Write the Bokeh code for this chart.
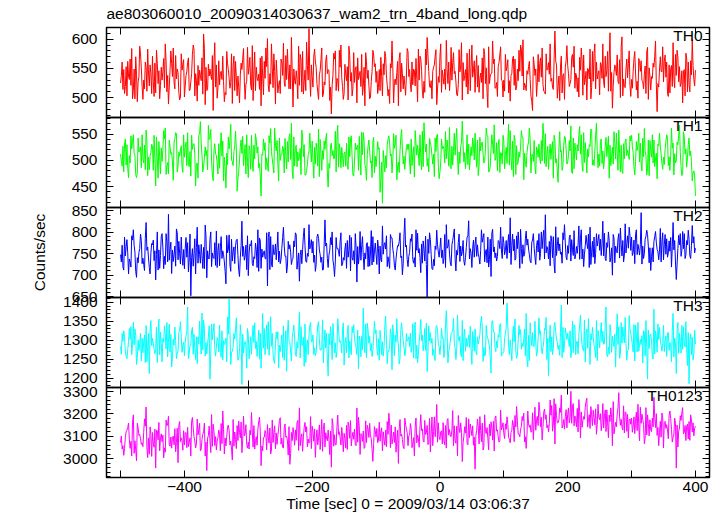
import numpy as np
from bokeh.plotting import figure
from bokeh.models import Range1d, LinearAxis, FixedTicker, Label, CustomLabelingPolicy
from bokeh.layouts import column
from bokeh.embed import file_html
from bokeh.resources import INLINE

# ---------------- data ----------------
# samples every 1.25 s: main at t=-500+5k, q1 at +1.25, mid at +2.5, q3 at +3.75
t_start = -500
t_step = 5

th0 = [525, 548, 503, 566, 512, 540, 588, 497, 552, 520,
       571, 508, 546, 530, 592, 489, 558, 515, 543, 575,
       501, 560, 527, 583, 494, 538, 609, 512, 549, 478,
       556, 522, 571, 505, 533, 490, 562, 518, 548, 497,
       540, 513, 578, 529, 486, 562, 601, 523, 575, 540,
       507, 593, 531, 556, 484, 546, 521, 579, 512, 618,
       536, 561, 497, 585, 522, 548, 472, 566, 530, 590,
       507, 553, 528, 577, 491, 545, 519, 562, 498, 581,
       526, 548, 503, 570, 514, 597, 532, 486, 559, 521,
       579, 510, 546, 493, 566, 528, 603, 517, 552, 488,
       571, 535, 598, 512, 560, 527, 582, 496, 548, 532,
       590, 509, 555, 526, 574, 483, 541, 566, 502, 587,
       530, 553, 494, 571, 518, 545, 599, 512, 562, 478,
       549, 527, 585, 506, 560, 533, 614, 519, 571, 497,
       555, 531, 588, 510, 547, 573, 496, 583, 528, 561,
       505, 592, 536, 568, 482, 550, 524, 604, 517, 558,
       531, 579, 499, 563, 540, 586, 513, 552, 476, 570,
       527, 561, 508, 594, 538, 553, 491, 576, 522, 599,
       547]
th0_q1 = [538, 507, 562, 521, 549, 493, 575, 530, 511, 556,
          527, 581, 498, 544, 563, 518, 536, 572, 509, 547,
          520, 568, 541, 503, 555, 529, 584, 514, 539, 561,
          499, 542, 527, 579, 516, 553, 534, 491, 566, 523,
          551, 589, 512, 540, 571, 533, 520, 592, 545, 508,
          566, 528, 583, 515, 549, 531, 574, 506, 595, 537,
          518, 552, 539, 501, 563, 546, 522, 580, 511, 534,
          557, 496, 543, 526, 568, 519, 552, 533, 501, 573,
          545, 512, 558, 537, 490, 549, 522, 567, 541, 504,
          536, 561, 520, 583, 547, 509, 571, 529, 556, 515,
          592, 523, 548, 536, 577, 505, 544, 560, 518, 583,
          535, 550, 509, 568, 524, 587, 542, 516, 553, 530,
          511, 565, 538, 521, 549, 590, 513, 546, 531, 570,
          502, 558, 523, 575, 540, 518, 563, 537, 508, 552,
          541, 569, 516, 534, 585, 522, 550, 498, 576, 532,
          560, 527, 547, 611, 519, 538, 565, 503, 549, 580,
          516, 542, 567, 529, 554, 497, 536, 571, 524, 545,
          562, 507, 550, 533, 581, 519, 544, 568, 510, 555]
th0_mid = [561, 519, 537, 584, 498, 527, 551, 515, 583, 541,
           502, 559, 521, 567, 510, 548, 585, 532, 496, 557,
           538, 512, 574, 541, 521, 568, 488, 557, 531, 594,
           517, 545, 493, 558, 526, 571, 503, 539, 584, 528,
           569, 495, 552, 514, 537, 585, 510, 552, 489, 521,
           561, 519, 544, 603, 529, 498, 566, 527, 555, 502,
           571, 524, 546, 506, 573, 495, 538, 512, 581, 519,
           540, 588, 503, 549, 531, 574, 486, 547, 528, 553,
           507, 569, 539, 521, 558, 491, 543, 577, 515, 537,
           548, 522, 567, 530, 511, 583, 545, 498, 571, 536,
           509, 549, 524, 586, 541, 503, 554, 529, 576, 512,
           548, 572, 532, 498, 551, 524, 597, 517, 560, 529,
           574, 508, 541, 566, 529, 583, 525, 540, 503, 557,
           526, 568, 511, 547, 592, 514, 556, 495, 538, 563,
           519, 574, 542, 501, 563, 531, 548, 517, 592, 540,
           556, 517, 579, 511, 543, 573, 500, 532, 566, 521,
           545, 513, 562, 528, 507, 551, 533, 597, 518, 544,
           573, 502, 555, 517, 569, 525, 548, 510, 563, 531]
th0_q3 = [514, 553, 531, 498, 570, 536, 519, 561, 542, 507,
          559, 524, 552, 517, 538, 580, 526, 549, 501, 565,
          544, 513, 590, 529, 547, 506, 552, 537, 572, 518,
          563, 531, 509, 548, 575, 512, 537, 559, 528, 586,
          521, 546, 534, 568, 505, 553, 541, 517, 564, 529,
          538, 572, 515, 544, 523, 588, 510, 547, 530, 556,
          583, 509, 565, 527, 541, 518, 576, 533, 552, 497,
          529, 572, 515, 553, 538, 504, 577, 521, 545, 558,
          517, 536, 579, 503, 551, 528, 562, 510, 537, 584,
          523, 549, 531, 571, 499, 556, 519, 545, 582, 526,
          547, 514, 561, 530, 545, 523, 594, 538, 506, 551,
          563, 518, 542, 584, 509, 537, 558, 526, 573, 501,
          546, 529, 567, 513, 581, 537, 520, 553, 494, 538,
          574, 535, 510, 549, 528, 566, 499, 554, 541, 589,
          524, 552, 537, 569, 504, 545, 532, 579, 515, 546,
          533, 571, 511, 543, 556, 528, 587, 519, 534, 502,
          567, 528, 545, 515, 578, 537, 559, 523, 549, 587,
          535, 556, 519, 574, 527, 546, 503, 561, 539, 520]

th1 = [512, 478, 530, 495, 549, 467, 521, 503, 558, 482,
       527, 451, 536, 498, 562, 474, 515, 541, 489, 528,
       506, 553, 470, 532, 495, 574, 488, 519, 543, 461,
       509, 485, 537, 447, 522, 498, 556, 479, 513, 530,
       467, 548, 503, 526, 432, 519, 491, 561, 476, 538,
       500, 523, 484, 551, 465, 529, 507, 545, 472, 516,
       537, 493, 560, 481, 521, 449, 533, 504, 567, 486,
       514, 492, 541, 470, 526, 503, 553, 462, 518, 535,
       488, 524, 418, 509, 547, 476, 531, 497, 559, 483,
       520, 541, 468, 529, 505, 572, 489, 534, 512, 548,
       478, 527, 503, 563, 491, 539, 516, 575, 484, 531,
       509, 552, 471, 533, 498, 546, 521, 568, 480, 515,
       537, 494, 557, 469, 528, 506, 543, 487, 562, 512,
       474, 531, 499, 551, 483, 524, 540, 458, 519, 546,
       497, 566, 484, 530, 512, 553, 476, 527, 501, 571,
       489, 518, 544, 466, 525, 503, 558, 481, 536, 513,
       548, 472, 529, 495, 561, 484, 520, 539, 465, 527,
       506, 549, 481, 533, 499, 567, 474, 522, 543, 461,
       432]
th1_q1 = [498, 531, 485, 547, 514, 476, 526, 495, 538, 509,
          481, 545, 506, 520, 473, 539, 497, 553, 516, 487,
          524, 492, 548, 511, 466, 533, 505, 482, 559, 519,
          495, 527, 461, 514, 538, 490, 522, 501, 546, 474,
          528, 497, 551, 486, 512, 534, 479, 517, 562, 493,
          511, 476, 536, 502, 545, 488, 523, 507, 481, 552,
          498, 533, 469, 519, 541, 494, 509, 556, 487, 525,
          516, 483, 547, 499, 529, 472, 537, 511, 495, 544,
          508, 439, 519, 486, 534, 501, 548, 477, 520, 506,
          531, 490, 557, 513, 482, 538, 504, 526, 469, 550,
          497, 522, 539, 486, 517, 561, 494, 529, 507, 482,
          543, 511, 489, 535, 522, 478, 549, 500, 528, 514,
          484, 536, 505, 548, 492, 527, 463, 515, 539, 498,
          526, 503, 571, 488, 514, 536, 495, 523, 481, 544,
          509, 477, 533, 518, 549, 496, 522, 560, 490, 517,
          536, 484, 507, 529, 493, 552, 513, 475, 541, 502,
          527, 498, 552, 480, 517, 539, 506, 488, 531, 513,
          492, 544, 510, 472, 535, 516, 555, 487, 509, 476]
th1_mid = [489, 541, 467, 522, 510, 543, 486, 529, 471, 515,
           548, 503, 474, 557, 489, 526, 462, 551, 508, 477,
           535, 488, 521, 451, 547, 510, 526, 567, 498, 532,
           474, 553, 506, 492, 569, 517, 441, 527, 490, 549,
           520, 479, 539, 494, 510, 482, 547, 503, 529, 461,
           511, 542, 497, 571, 489, 516, 473, 530, 492, 523,
           466, 518, 540, 502, 552, 485, 519, 478, 532, 509,
           489, 545, 507, 533, 481, 554, 492, 527, 499, 476,
           536, 465, 497, 530, 508, 551, 463, 518, 493, 526,
           497, 512, 533, 490, 556, 516, 478, 509, 543, 491,
           541, 495, 518, 484, 552, 508, 527, 497, 549, 506,
           528, 487, 544, 513, 562, 479, 531, 505, 540, 493,
           511, 569, 482, 539, 497, 557, 514, 528, 476, 538,
           520, 494, 547, 512, 531, 466, 503, 555, 489, 522,
           538, 475, 519, 549, 492, 534, 507, 558, 518, 486,
           541, 503, 527, 490, 555, 514, 478, 532, 509, 547,
           515, 536, 497, 542, 510, 471, 549, 503, 528, 494,
           521, 490, 562, 513, 530, 488, 544, 505, 518, 480]
th1_q3 = [527, 491, 509, 538, 473, 516, 549, 482, 506, 531,
          503, 466, 524, 541, 496, 512, 535, 478, 520, 549,
          490, 517, 531, 494, 552, 478, 509, 540, 472, 513,
          532, 508, 488, 545, 501, 527, 466, 539, 511, 496,
          483, 529, 514, 470, 541, 505, 533, 490, 518, 543,
          527, 509, 545, 480, 523, 499, 558, 472, 511, 497,
          525, 489, 514, 537, 476, 528, 503, 541, 519, 488,
          533, 507, 472, 520, 546, 511, 485, 539, 467, 508,
          521, 497, 478, 540, 512, 523, 489, 545, 508, 531,
          474, 526, 510, 549, 488, 531, 542, 493, 517, 465,
          522, 555, 489, 527, 510, 473, 534, 515, 492, 526,
          501, 539, 518, 495, 547, 489, 513, 534, 477, 548,
          525, 491, 537, 473, 516, 544, 498, 535, 511, 489,
          506, 538, 494, 527, 502, 548, 480, 516, 529, 493,
          518, 543, 501, 565, 479, 507, 530, 491, 548, 512,
          494, 527, 546, 508, 532, 481, 529, 503, 520, 537,
          488, 519, 533, 507, 472, 538, 495, 514, 552, 483,
          536, 507, 523, 495, 548, 471, 512, 530, 498, 472]

th2 = [748, 712, 783, 731, 806, 695, 762, 740, 823, 718,
       771, 689, 759, 797, 725, 842, 704, 768, 736, 789,
       715, 776, 652, 750, 812, 728, 765, 694, 784, 741,
       803, 722, 757, 680, 794, 733, 769, 711, 826, 745,
       699, 781, 739, 806, 716, 757, 675, 790, 748, 764,
       727, 812, 705, 771, 740, 795, 686, 760, 733, 818,
       752, 709, 786, 742, 829, 718, 771, 697, 763, 799,
       735, 781, 710, 757, 684, 802, 744, 773, 721, 790,
       749, 703, 815, 761, 730, 787, 712, 768, 745, 833,
       720, 779, 741, 798, 706, 760, 642, 783, 737, 805,
       764, 727, 818, 749, 781, 710, 796, 755, 741, 827,
       718, 772, 750, 806, 731, 789, 697, 766, 744, 812,
       776, 739, 834, 757, 792, 716, 771, 803, 748, 782,
       725, 797, 762, 841, 738, 779, 705, 788, 754, 818,
       769, 733, 804, 751, 786, 720, 775, 812, 742, 797,
       758, 826, 734, 781, 700, 768, 797, 745, 820, 763,
       789, 727, 772, 846, 751, 795, 711, 779, 760, 809,
       736, 785, 756, 823, 690, 771, 802, 747, 784, 816,
       763]
th2_q1 = [731, 789, 752, 719, 770, 741, 796, 725, 758, 703,
          782, 748, 716, 764, 797, 735, 759, 721, 779, 746,
          763, 708, 741, 785, 728, 772, 715, 757, 801, 739,
          718, 766, 748, 793, 724, 755, 782, 697, 744, 770,
          752, 727, 775, 709, 761, 739, 788, 726, 749, 801,
          737, 768, 721, 754, 780, 714, 747, 791, 730, 761,
          779, 725, 759, 712, 768, 747, 801, 733, 756, 722,
          761, 742, 788, 726, 767, 735, 713, 776, 752, 731,
          725, 768, 749, 792, 716, 761, 738, 779, 701, 766,
          744, 796, 719, 752, 773, 733, 784, 749, 722, 771,
          787, 740, 763, 729, 794, 758, 732, 781, 765, 738,
          763, 789, 741, 777, 754, 719, 798, 741, 781, 759,
          748, 773, 725, 784, 762, 807, 744, 770, 733, 797,
          769, 735, 790, 752, 779, 741, 813, 757, 728, 775,
          751, 783, 738, 772, 806, 749, 762, 725, 789, 768,
          784, 745, 776, 731, 795, 758, 740, 781, 752, 812,
          746, 795, 761, 726, 784, 768, 743, 790, 755, 731,
          771, 742, 788, 759, 726, 797, 762, 781, 745, 775]
th2_mid = [770, 745, 703, 792, 754, 729, 781, 711, 766, 752,
           734, 801, 746, 715, 778, 760, 732, 808, 751, 723,
           788, 738, 762, 703, 771, 746, 817, 739, 720, 776,
           758, 790, 731, 752, 709, 766, 784, 742, 767, 713,
           772, 722, 760, 787, 742, 738, 801, 719, 773, 731,
           763, 744, 779, 725, 766, 734, 759, 810, 751, 769,
           730, 789, 748, 713, 775, 758, 735, 788, 744, 726,
           775, 758, 741, 797, 726, 769, 752, 720, 804, 757,
           782, 736, 771, 720, 795, 748, 756, 799, 728, 770,
           753, 737, 806, 762, 728, 791, 751, 715, 768, 754,
           741, 795, 767, 722, 808, 747, 768, 733, 789, 762,
           782, 744, 726, 788, 760, 737, 807, 752, 779, 739,
           758, 795, 770, 735, 801, 762, 748, 784, 729, 763,
           781, 751, 805, 767, 722, 790, 746, 773, 799, 742,
           788, 760, 748, 815, 738, 769, 796, 754, 727, 781,
           746, 798, 765, 742, 786, 752, 810, 731, 774, 793,
           753, 806, 747, 768, 791, 729, 764, 802, 736, 778,
           795, 752, 719, 781, 762, 744, 797, 771, 739, 790]
th2_q3 = [719, 766, 738, 782, 709, 753, 727, 786, 740, 774,
          757, 712, 791, 744, 731, 777, 748, 799, 726, 760,
          742, 796, 721, 765, 749, 716, 791, 738, 752, 723,
          774, 739, 709, 761, 784, 727, 746, 769, 735, 792,
          769, 743, 718, 780, 752, 799, 713, 771, 736, 756,
          788, 745, 761, 736, 799, 752, 727, 769, 744, 783,
          747, 796, 730, 771, 739, 788, 722, 762, 779, 741,
          716, 793, 735, 764, 749, 790, 738, 767, 724, 775,
          763, 731, 776, 743, 787, 722, 769, 741, 794, 737,
          785, 728, 758, 741, 780, 725, 799, 713, 760, 742,
          759, 718, 783, 771, 738, 776, 745, 723, 792, 751,
          742, 771, 758, 797, 729, 784, 755, 733, 762, 790,
          781, 752, 796, 739, 770, 727, 785, 761, 777, 742,
          754, 801, 738, 761, 792, 726, 770, 749, 783, 736,
          794, 746, 767, 737, 761, 793, 718, 779, 751, 795,
          773, 739, 801, 764, 729, 785, 771, 747, 792, 758,
          782, 748, 771, 739, 805, 764, 731, 777, 759, 799,
          749, 780, 766, 731, 793, 758, 739, 805, 770, 752]

th3 = [1284, 1325, 1251, 1302, 1348, 1236, 1291, 1267, 1339, 1212,
       1305, 1278, 1356, 1243, 1318, 1294, 1229, 1335, 1272, 1310,
       1259, 1388, 1287, 1316, 1238, 1299, 1353, 1264, 1197, 1321,
       1282, 1340, 1248, 1306, 1410, 1271, 1328, 1254, 1183, 1297,
       1315, 1263, 1346, 1289, 1226, 1331, 1276, 1362, 1245, 1303,
       1270, 1338, 1218, 1295, 1322, 1257, 1374, 1286, 1241, 1312,
       1296, 1259, 1349, 1280, 1327, 1206, 1303, 1266, 1357, 1292,
       1234, 1318, 1277, 1341, 1262, 1299, 1385, 1253, 1310, 1275,
       1327, 1247, 1296, 1364, 1271, 1222, 1314, 1285, 1346, 1259,
       1301, 1268, 1332, 1240, 1355, 1289, 1217, 1320, 1276, 1339,
       1262, 1307, 1378, 1283, 1325, 1249, 1297, 1352, 1271, 1314,
       1236, 1330, 1291, 1363, 1258, 1305, 1213, 1322, 1280, 1344,
       1270, 1398, 1301, 1337, 1252, 1315, 1283, 1371, 1246, 1320,
       1293, 1359, 1264, 1327, 1206, 1309, 1347, 1276, 1393, 1288,
       1319, 1254, 1341, 1297, 1366, 1271, 1330, 1236, 1308, 1352,
       1280, 1324, 1388, 1263, 1311, 1229, 1336, 1292, 1360, 1274,
       1305, 1245, 1347, 1289, 1323, 1197, 1316, 1382, 1268, 1301,
       1339, 1257, 1294, 1371, 1212, 1318, 1276, 1349, 1185, 1308,
       1290]
th3_q1 = [1263, 1309, 1275, 1336, 1288, 1254, 1318, 1296, 1243, 1327,
          1290, 1335, 1261, 1304, 1277, 1342, 1256, 1299, 1321, 1268,
          1297, 1251, 1326, 1276, 1309, 1263, 1331, 1292, 1265, 1344,
          1307, 1268, 1299, 1243, 1325, 1282, 1359, 1271, 1316, 1285,
          1251, 1311, 1278, 1327, 1293, 1262, 1349, 1284, 1239, 1322,
          1289, 1247, 1318, 1272, 1340, 1296, 1253, 1308, 1281, 1338,
          1314, 1267, 1301, 1354, 1279, 1317, 1249, 1293, 1330, 1266,
          1292, 1339, 1262, 1304, 1327, 1256, 1296, 1345, 1272, 1309,
          1278, 1326, 1258, 1303, 1286, 1341, 1295, 1237, 1318, 1272,
          1309, 1285, 1348, 1263, 1299, 1331, 1270, 1292, 1256, 1325,
          1288, 1254, 1319, 1297, 1358, 1274, 1310, 1246, 1306, 1281,
          1323, 1271, 1301, 1336, 1262, 1294, 1349, 1279, 1315, 1258,
          1305, 1339, 1277, 1296, 1261, 1328, 1303, 1249, 1346, 1284,
          1258, 1316, 1281, 1360, 1295, 1262, 1321, 1287, 1254, 1332,
          1300, 1276, 1338, 1264, 1311, 1353, 1279, 1317, 1286, 1246,
          1317, 1289, 1261, 1341, 1296, 1309, 1252, 1335, 1292, 1365,
          1287, 1340, 1271, 1312, 1258, 1327, 1298, 1264, 1343, 1287,
          1270, 1319, 1288, 1256, 1324, 1297, 1335, 1277, 1302, 1248]
th3_mid = [1318, 1270, 1297, 1262, 1330, 1301, 1245, 1314, 1283, 1352,
           1276, 1241, 1322, 1295, 1347, 1269, 1303, 1251, 1327, 1287,
           1311, 1266, 1334, 1249, 1290, 1372, 1258, 1309, 1343, 1277,
           1301, 1255, 1289, 1362, 1236, 1318, 1287, 1341, 1266, 1226,
           1284, 1339, 1297, 1250, 1371, 1305, 1260, 1318, 1292, 1227,
           1314, 1288, 1353, 1245, 1306, 1279, 1336, 1231, 1301, 1347,
           1262, 1311, 1274, 1240, 1319, 1288, 1344, 1254, 1295, 1328,
           1307, 1253, 1336, 1289, 1224, 1310, 1267, 1327, 1291, 1350,
           1260, 1302, 1281, 1238, 1330, 1306, 1357, 1252, 1299, 1318,
           1283, 1344, 1251, 1296, 1314, 1273, 1338, 1305, 1246, 1291,
           1331, 1276, 1240, 1318, 1294, 1366, 1264, 1309, 1283, 1337,
           1302, 1261, 1315, 1244, 1339, 1285, 1352, 1270, 1308, 1266,
           1318, 1287, 1246, 1356, 1301, 1276, 1330, 1229, 1312, 1284,
           1269, 1325, 1296, 1249, 1340, 1279, 1303, 1260, 1334, 1317,
           1283, 1351, 1262, 1315, 1288, 1242, 1357, 1301, 1275, 1326,
           1347, 1292, 1256, 1321, 1283, 1370, 1265, 1310, 1247, 1330,
           1269, 1314, 1287, 1240, 1352, 1278, 1254, 1325, 1302, 1271,
           1298, 1321, 1243, 1306, 1347, 1266, 1293, 1233, 1317, 1262]
th3_q3 = [1297, 1257, 1331, 1289, 1312, 1273, 1305, 1241, 1318, 1286,
          1264, 1306, 1291, 1338, 1256, 1315, 1287, 1265, 1349, 1295,
          1322, 1286, 1263, 1309, 1351, 1274, 1294, 1338, 1301, 1258,
          1269, 1325, 1291, 1316, 1268, 1303, 1247, 1310, 1289, 1331,
          1309, 1294, 1257, 1318, 1279, 1341, 1303, 1266, 1322, 1287,
          1254, 1325, 1297, 1307, 1263, 1319, 1287, 1343, 1262, 1296,
          1280, 1341, 1274, 1290, 1252, 1336, 1308, 1271, 1299, 1346,
          1266, 1298, 1320, 1282, 1311, 1274, 1343, 1292, 1257, 1317,
          1304, 1261, 1339, 1273, 1316, 1259, 1306, 1328, 1281, 1297,
          1319, 1253, 1287, 1319, 1272, 1345, 1298, 1260, 1333, 1284,
          1305, 1342, 1269, 1321, 1280, 1309, 1256, 1329, 1296, 1275,
          1271, 1309, 1347, 1281, 1313, 1257, 1322, 1298, 1341, 1266,
          1333, 1262, 1308, 1271, 1339, 1292, 1258, 1313, 1285, 1350,
          1306, 1280, 1331, 1305, 1270, 1339, 1294, 1321, 1268, 1302,
          1325, 1267, 1296, 1340, 1277, 1318, 1286, 1334, 1254, 1308,
          1295, 1339, 1282, 1268, 1316, 1289, 1347, 1293, 1272, 1318,
          1341, 1269, 1302, 1325, 1281, 1312, 1250, 1306, 1334, 1291,
          1311, 1273, 1326, 1290, 1265, 1339, 1282, 1320, 1261, 1327]

th0123 = [3072, 3015, 3128, 3046, 3196, 2991, 3108, 3054, 3231, 3020,
          3117, 2958, 3162, 3076, 3029, 3189, 3047, 3134, 2982, 3093,
          3061, 3140, 3012, 3098, 3177, 3035, 3120, 2947, 3082, 3154,
          3039, 3109, 3213, 3057, 3125, 2994, 3086, 3168, 3027, 3111,
          3074, 3206, 3043, 3132, 2969, 3095, 3152, 3021, 3116, 3064,
          3183, 3048, 3101, 2975, 3139, 3082, 3227, 3033, 3119, 3070,
          3145, 3006, 3094, 3175, 3052, 3128, 2962, 3107, 3195, 3061,
          3113, 3041, 3170, 3087, 3226, 3019, 3124, 3072, 3158, 2988,
          3097, 3163, 3035, 3128, 3203, 3066, 3142, 2979, 3110, 3181,
          3058, 3134, 3012, 3106, 3197, 3074, 3149, 3030, 3121, 3242,
          3085, 3161, 3047, 3130, 3215, 3069, 3138, 2987, 3114, 3178,
          3103, 2953, 3142, 3076, 3196, 3091, 3165, 3034, 3129, 3217,
          3112, 3187, 3071, 3150, 3233, 3098, 3169, 3046, 3140, 3205,
          3127, 3252, 3084, 3176, 3119, 3238, 3066, 3161, 3284, 3132,
          3199, 3301, 3147, 3225, 3093, 3188, 3270, 3135, 3216, 3109,
          3174, 3246, 3121, 3195, 3058, 3162, 3295, 3140, 3209, 3093,
          3181, 3112, 3243, 3158, 3067, 3196, 3129, 3274, 3104, 3167,
          3048, 3152, 3213, 3095, 2958, 3137, 3228, 3081, 3166, 3119,
          3145]
th0123_q1 = [3101, 3046, 3139, 3077, 3024, 3158, 3089, 3118, 3051, 3142,
             3068, 3127, 3035, 3105, 3172, 3062, 3096, 3031, 3149, 3081,
             3115, 3054, 3167, 3079, 3106, 3042, 3159, 3092, 3027, 3121,
             3078, 3036, 3133, 3100, 3061, 3175, 3045, 3118, 3083, 3152,
             3043, 3119, 3081, 3164, 3057, 3126, 3098, 3039, 3147, 3101,
             3065, 3138, 3079, 3024, 3111, 3162, 3058, 3097, 3143, 3076,
             3120, 3087, 3151, 3033, 3116, 3085, 3179, 3062, 3108, 3140,
             3090, 3163, 3057, 3132, 3074, 3112, 3046, 3149, 3102, 3067,
             3135, 3078, 3120, 3053, 3166, 3091, 3029, 3137, 3086, 3154,
             3102, 3049, 3143, 3089, 3126, 3171, 3063, 3110, 3187, 3074,
             3121, 3082, 3170, 3101, 3057, 3145, 3116, 3072, 3184, 3094,
             3147, 3103, 3066, 3159, 3121, 3040, 3136, 3182, 3097, 3129,
             3090, 3154, 3118, 3076, 3168, 3132, 3203, 3108, 3151, 3085,
             3172, 3214, 3139, 3196, 3158, 3123, 3245, 3174, 3137, 3189,
             3226, 3158, 3191, 3120, 3209, 3176, 3141, 3233, 3184, 3152,
             3201, 3137, 3218, 3166, 3255, 3143, 3187, 3128, 3206, 3171,
             3118, 3172, 3146, 3199, 3093, 3157, 3121, 3185, 3140, 3096,
             3163, 3128, 3179, 3107, 3150, 3192, 3111, 3144, 3082, 3160]
th0123_mid = [3043, 3096, 3159, 3012, 3080, 3137, 3064, 3178, 3005, 3109,
              3051, 3125, 3093, 3004, 3147, 3056, 3101, 3072, 3166, 3038,
              3117, 3073, 3184, 3048, 3129, 3086, 3012, 3103, 3197, 3059,
              3094, 3157, 3021, 3141, 3079, 3056, 3148, 3093, 3190, 3064,
              3127, 3052, 3098, 3186, 3035, 3112, 3070, 3173, 3044, 3135,
              3092, 3155, 3016, 3117, 3060, 3171, 3095, 3140, 3053, 3188,
              3078, 3129, 3041, 3131, 3092, 3018, 3154, 3063, 3121, 3099,
              3047, 3144, 3096, 3062, 3185, 3107, 3051, 3133, 3090, 3143,
              3071, 3120, 3087, 3166, 3049, 3119, 3084, 3175, 3053, 3132,
              3106, 3069, 3182, 3051, 3133, 3108, 3071, 3186, 3098, 3160,
              3124, 3062, 3179, 3098, 3147, 3012, 3160, 3101, 3069, 3155,
              3060, 3126, 3188, 3039, 3112, 3154, 3083, 3191, 3074, 3141,
              3156, 3095, 3127, 3193, 3110, 3144, 3075, 3213, 3118, 3166,
              3189, 3143, 3207, 3138, 3262, 3155, 3192, 3227, 3147, 3219,
              3160, 3237, 3178, 3264, 3140, 3229, 3174, 3196, 3151, 3243,
              3125, 3191, 3160, 3227, 3111, 3200, 3149, 3236, 3122, 3178,
              3146, 3208, 3080, 3175, 3228, 3102, 3181, 3139, 3058, 3204,
              3167, 3089, 3131, 3181, 3052, 3171, 3118, 3154, 3196, 3102]
th0123_q3 = [3058, 3120, 3087, 3163, 3039, 3104, 3071, 3145, 3093, 3010,
             3132, 3084, 3111, 3048, 3155, 3097, 3062, 3136, 3076, 3125,
             3049, 3093, 3137, 3066, 3158, 3109, 3074, 3146, 3055, 3099,
             3128, 3067, 3092, 3150, 3043, 3119, 3081, 3164, 3102, 3047,
             3106, 3148, 3060, 3123, 3094, 3040, 3137, 3072, 3115, 3171,
             3050, 3096, 3143, 3081, 3129, 3037, 3111, 3162, 3088, 3045,
             3133, 3062, 3107, 3159, 3080, 3124, 3056, 3140, 3093, 3031,
             3149, 3091, 3118, 3058, 3142, 3077, 3169, 3095, 3041, 3125,
             3083, 3138, 3060, 3109, 3150, 3072, 3127, 3101, 3045, 3116,
             3157, 3094, 3071, 3139, 3082, 3116, 3180, 3058, 3145, 3099,
             3066, 3148, 3105, 3127, 3081, 3193, 3118, 3143, 3062, 3131,
             3096, 3177, 3125, 3052, 3139, 3102, 3167, 3123, 3080, 3160,
             3131, 3087, 3171, 3142, 3110, 3189, 3098, 3156, 3121, 3230,
             3148, 3185, 3222, 3151, 3194, 3268, 3160, 3207, 3175, 3138,
             3183, 3246, 3142, 3212, 3170, 3256, 3197, 3148, 3223, 3185,
             3162, 3218, 3094, 3184, 3139, 3227, 3176, 3115, 3198, 3154,
             3187, 3125, 3230, 3153, 3106, 3174, 3142, 3201, 3117, 3183,
             3135, 3192, 3074, 3158, 3123, 3206, 3149, 3088, 3172, 3136]

panel_names = ["TH0", "TH1", "TH2", "TH3", "TH0123"]
panel_colors = ["#ff0000", "#00ff00", "#0000ff", "#00ffff", "#ff00ff"]
panel_series = [(th0, th0_q1, th0_mid, th0_q3),
                (th1, th1_q1, th1_mid, th1_q3),
                (th2, th2_q1, th2_mid, th2_q3),
                (th3, th3_q1, th3_mid, th3_q3),
                (th0123, th0123_q1, th0123_mid, th0123_q3)]
sub_offsets = [0.0, 1.25, 2.5, 3.75]
y_lows = [466, 410, 648, 1175, 2916]
y_highs = [620, 582, 858, 1413, 3318]
y_major = [[500, 550, 600],
           [450, 500, 550],
           [650, 700, 750, 800, 850],
           [1200, 1250, 1300, 1350, 1400],
           [3000, 3100, 3200, 3300]]
y_minor_step = [10, 10, 10, 10, 20]

x_low, x_high = -522, 422
x_label_ticks = [-400, -200, 0, 200, 400]
x_tick_labels = ["\u2212400", "\u2212200", "0", "200", "400"]
x_minor_ticks = [-500, -300, -100, 100, 300]

title_text = "ae803060010_20090314030637_wam2_trn_4band_long.qdp"
y_label = "Counts/sec"
x_label = "Time [sec] 0 = 2009/03/14 03:06:37"

FONT = "Liberation Sans"
FS = "15.5px"

W = 714
FRAME_H = 90
OVER = 12
TOP1 = 27
BOT5 = 39
x_range = Range1d(x_low, x_high)

NO_LABELS = "for (const i of indices) { indices.unset(i) }"


def tick_axis(ticker, labels=False, minor_len=4):
    ax = LinearAxis(ticker=ticker)
    ax.axis_line_color = None
    ax.major_tick_in = 7
    ax.major_tick_out = 0
    ax.minor_tick_in = minor_len
    ax.minor_tick_out = 0
    ax.major_tick_line_color = "black"
    ax.minor_tick_line_color = "black"
    ax.major_tick_line_width = 1
    ax.minor_tick_line_width = 1
    if labels:
        ax.major_label_text_font = FONT
        ax.major_label_text_font_size = FS
        ax.major_label_text_color = "black"
    else:
        ax.major_label_text_font_size = "1px"
        ax.major_label_standoff = 0
        ax.major_label_policy = CustomLabelingPolicy(code=NO_LABELS)
    return ax


def x_ticker():
    return FixedTicker(ticks=x_label_ticks, minor_ticks=x_minor_ticks)


figs = []
n = len(panel_names)
for i in range(n):
    top = TOP1 if i == 0 else OVER
    bottom = BOT5 if i == n - 1 else OVER
    p = figure(width=W, height=top + FRAME_H + bottom,
               x_range=x_range, y_range=Range1d(y_lows[i], y_highs[i]),
               x_axis_type=None, y_axis_type=None,
               output_backend="svg", toolbar_location=None,
               min_border_left=106, min_border_right=3,
               min_border_top=top, min_border_bottom=bottom)
    p.background_fill_alpha = 0
    p.border_fill_alpha = 0
    p.outline_line_color = "black"
    p.outline_line_width = 1.5
    if i > 0:
        p.margin = (-2 * OVER, 0, 0, 0)

    step = y_minor_step[i]
    minor = list(np.arange(y_lows[i] - y_lows[i] % step + step, y_highs[i] + 1, step))
    left = tick_axis(FixedTicker(ticks=y_major[i], minor_ticks=minor), labels=True)
    left.major_label_standoff = 9
    if i == 2:
        left.axis_label = y_label
        left.axis_label_text_font = FONT
        left.axis_label_text_font_size = FS
        left.axis_label_text_font_style = "normal"
        left.axis_label_text_color = "black"
        left.axis_label_standoff = 21
    p.add_layout(left, "left")
    p.add_layout(tick_axis(FixedTicker(ticks=y_major[i], minor_ticks=minor)), "right")

    p.add_layout(tick_axis(x_ticker(), minor_len=7), "above")
    if i == n - 1:
        bx = tick_axis(x_ticker(), labels=True, minor_len=7)
        bx.major_label_overrides = {t: s for t, s in zip(x_label_ticks, x_tick_labels)}
        bx.major_label_standoff = 4
        bx.axis_label = x_label
        bx.axis_label_text_font = FONT
        bx.axis_label_text_font_size = FS
        bx.axis_label_text_font_style = "normal"
        bx.axis_label_text_color = "black"
        bx.axis_label_standoff = 0
        p.add_layout(bx, "below")
    else:
        p.add_layout(tick_axis(x_ticker(), minor_len=7), "below")

    if i == 0:
        p.title.text = title_text
        p.title.text_font = FONT
        p.title.text_font_size = FS
        p.title.text_font_style = "normal"
        p.title.text_color = "black"
        p.title.align = "left"
        p.title.standoff = 3

    t_parts, v_parts = [], []
    for off, vals in zip(sub_offsets, panel_series[i]):
        t_parts.append(t_start + off + t_step * np.arange(len(vals)))
        v_parts.append(np.asarray(vals, dtype=float))
    t_all = np.concatenate(t_parts)
    v_all = np.concatenate(v_parts)
    order = np.argsort(t_all)
    p.line(t_all[order], v_all[order], line_color=panel_colors[i], line_width=1)

    p.add_layout(Label(x=x_high, y=y_highs[i], text=panel_names[i],
                       text_align="right", text_baseline="top",
                       x_offset=-7, y_offset=1,
                       text_font=FONT, text_font_size=FS, text_color="black"))
    figs.append(p)

layout = column(*figs, spacing=0)
open("out.html", "w").write(file_html(layout, INLINE))
